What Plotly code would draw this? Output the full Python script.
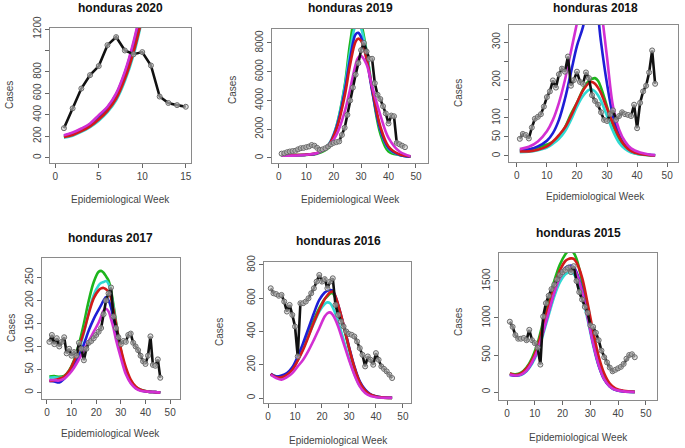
import plotly.graph_objects as go

W, H = 685, 448

# ---------------- data ----------------
weeks_2020 = list(range(1, 16))
obs_2020 = [275, 460, 645, 770, 855, 1050, 1125, 1000, 965, 985, 860, 570, 510, 490, 475]
fitx_2020 = list(range(1, 12))
green_2020 = [195, 215, 250, 295, 360, 440, 555, 740, 990, 1330, 1800]
cyan_2020 = [185, 205, 240, 285, 345, 425, 535, 715, 960, 1300, 1760]
red_2020 = [192, 212, 247, 292, 356, 436, 550, 735, 985, 1320, 1790]
blue_2020 = [205, 228, 265, 312, 388, 468, 590, 790, 1065, 1430, 1920]
mag_2020 = [209, 234, 272, 319, 397, 475, 600, 803, 1084, 1450, 1950]

weeks_2019 = list(range(1, 47))
obs_2019 = [300, 330, 400, 450, 480, 500, 600, 680, 700, 750, 800, 900, 850, 700, 560, 600,
            680, 800, 950, 1050, 1100, 1150, 1600, 2100, 3000, 4000, 4900, 5800, 6600, 7500,
            8000, 7400, 6900, 6900, 5200, 4400, 4100, 3600, 3100, 2400, 2950, 2900, 1050, 950,
            850, 750]
fitx_2019 = [1, 5, 10, 14, 18, 21, 24, 26, 28, 29, 30, 32, 34, 37, 40, 44, 48]
green_2019 = [200, 200, 210, 300, 700, 2200, 5000, 8000, 9900, 9950, 9400, 7400, 4800, 1700, 450, 200, 100]
cyan_2019 = [180, 190, 220, 340, 900, 2200, 4900, 7400, 9200, 9300, 9000, 7300, 4900, 2000, 650, 200, 80]
blue_2019 = [180, 190, 220, 330, 850, 2100, 4600, 6900, 8600, 8700, 8400, 6900, 4700, 2000, 700, 220, 90]
red_2019 = [200, 200, 230, 350, 850, 2000, 4300, 6500, 8100, 8300, 8150, 6900, 4900, 2200, 800, 250, 100]
mag_2019 = [150, 160, 220, 350, 800, 1600, 3200, 4800, 6500, 7000, 7100, 6500, 5000, 3000, 1400, 450, 120]

weeks_2018 = list(range(1, 47))
obs_2018 = [45, 58, 55, 46, 75, 98, 103, 110, 130, 155, 170, 199, 180, 215, 230, 222, 262, 185,
            200, 222, 195, 190, 220, 205, 160, 145, 135, 115, 95, 92, 110, 120, 95, 105, 115,
            110, 108, 105, 135, 73, 140, 170, 185, 220, 278, 190]
fitx_2018 = [1, 4, 7, 10, 12, 14, 16, 18, 20, 22, 24, 25, 26, 27, 28, 30, 32, 34, 36, 38, 41, 44, 46]
green_2018 = [15, 17, 22, 30, 37, 50, 75, 110, 140, 175, 198, 203, 205, 198, 180, 130, 80, 45, 22, 11, 4, 2, 1]
cyan_2018 = [10, 11, 15, 22, 32, 45, 65, 95, 130, 158, 174, 175, 170, 160, 145, 105, 65, 35, 18, 9, 4, 2, 1]
blue_2018 = [14, 17, 25, 40, 60, 95, 150, 220, 290, 340, 420, 440, 420, 370, 300, 190, 105, 55, 28, 14, 6, 3, 2]
red_2018 = [12, 12, 16, 25, 38, 55, 75, 105, 140, 172, 192, 195, 190, 180, 165, 125, 85, 50, 26, 13, 5, 2, 1]
mag_2018 = [18, 24, 38, 65, 95, 140, 200, 275, 350, 420, 470, 480, 470, 440, 390, 260, 130, 70, 38, 20, 9, 4, 2]

weeks_2017 = list(range(1, 47))
obs_2017 = [110, 125, 105, 118, 100, 110, 120, 85, 95, 80, 88, 80, 108, 95, 70, 95, 108, 112,
            118, 125, 132, 140, 170, 200, 215, 228, 165, 140, 120, 105, 112, 110, 125, 128, 108,
            100, 92, 80, 68, 62, 80, 122, 60, 58, 72, 32]
fitx_2017 = [1, 3, 5, 7, 9, 11, 13, 15, 17, 19, 21, 22, 23, 24, 25, 26, 27, 28, 30, 32, 34, 36, 38, 41, 44, 46]
green_2017 = [35, 36, 34, 36, 48, 70, 105, 150, 200, 240, 262, 264, 260, 252, 243, 222, 190, 155, 92, 50, 25, 12, 6, 2, 1, 0]
cyan_2017 = [32, 33, 32, 34, 44, 62, 92, 130, 175, 212, 233, 238, 240, 242, 236, 215, 185, 150, 90, 48, 23, 11, 5, 2, 1, 0]
blue_2017 = [25, 24, 22, 30, 44, 60, 80, 105, 135, 160, 180, 190, 200, 207, 200, 185, 160, 135, 85, 45, 22, 10, 5, 2, 1, 0]
red_2017 = [25, 27, 30, 35, 47, 68, 98, 132, 172, 205, 222, 226, 227, 224, 219, 205, 180, 150, 95, 55, 28, 13, 6, 2, 1, 0]
mag_2017 = [27, 27, 26, 30, 40, 54, 72, 92, 112, 132, 152, 165, 178, 182, 176, 160, 140, 115, 75, 40, 20, 9, 4, 2, 1, 0]

weeks_2016 = list(range(1, 47))
obs_2016 = [660, 630, 625, 615, 620, 580, 520, 560, 500, 430, 250, 570, 570, 580, 600, 630, 660,
            700, 740, 700, 715, 660, 700, 720, 560, 500, 460, 430, 400, 385, 380, 370, 340, 300,
            260, 190, 250, 230, 200, 270, 230, 190, 175, 160, 140, 120]
fitx_2016 = [1, 3, 5, 7, 9, 11, 13, 15, 17, 19, 21, 22, 23, 24, 25, 26, 28, 30, 32, 34, 36, 38, 40, 42, 46]
green_2016 = [140, 130, 125, 145, 175, 230, 300, 385, 470, 540, 595, 612, 628, 630, 600, 550, 430, 300, 180, 95, 45, 20, 9, 4, 1]
cyan_2016 = [145, 128, 130, 145, 180, 235, 300, 375, 450, 520, 565, 575, 570, 545, 505, 460, 350, 240, 145, 75, 35, 16, 7, 3, 1]
blue_2016 = [145, 130, 135, 150, 185, 250, 330, 420, 510, 590, 635, 645, 650, 645, 610, 560, 440, 310, 190, 100, 50, 22, 10, 5, 2]
red_2016 = [145, 125, 125, 140, 170, 225, 290, 370, 455, 530, 595, 618, 635, 640, 610, 560, 440, 305, 185, 95, 45, 20, 9, 4, 1]
mag_2016 = [140, 120, 110, 125, 150, 190, 230, 285, 350, 420, 490, 510, 515, 500, 470, 430, 330, 230, 140, 70, 30, 12, 5, 2, 1]

weeks_2015 = list(range(1, 47))
obs_2015 = [950, 880, 770, 720, 720, 730, 700, 840, 700, 660, 600, 370, 1020, 1200, 1300, 1390,
            1450, 1520, 1580, 1620, 1650, 1680, 1620, 1700, 1500, 1350, 1250, 1150, 1070, 900,
            880, 800, 700, 560, 470, 400, 330, 280, 300, 320, 340, 380, 450, 500, 510, 470]
fitx_2015 = [1, 3, 5, 7, 9, 11, 13, 15, 17, 19, 21, 22, 23, 24, 25, 27, 29, 31, 33, 35, 37, 39, 42, 46]
green_2015 = [250, 240, 260, 330, 460, 660, 950, 1230, 1500, 1720, 1860, 1900, 1910, 1880, 1800, 1500, 1100, 700, 380, 180, 80, 35, 10, 2]
cyan_2015 = [240, 225, 230, 280, 380, 540, 780, 1040, 1290, 1480, 1590, 1610, 1615, 1595, 1530, 1300, 980, 630, 350, 170, 75, 30, 8, 1]
blue_2015 = [230, 220, 235, 290, 400, 570, 820, 1090, 1350, 1560, 1680, 1700, 1710, 1690, 1620, 1380, 1030, 660, 360, 170, 75, 30, 8, 1]
red_2015 = [250, 230, 250, 320, 430, 620, 900, 1170, 1430, 1640, 1770, 1795, 1805, 1800, 1750, 1550, 1200, 820, 480, 250, 115, 50, 15, 2]
mag_2015 = [235, 222, 235, 290, 400, 565, 810, 1080, 1340, 1540, 1660, 1680, 1690, 1670, 1600, 1360, 1010, 650, 360, 170, 75, 30, 8, 1]

titles = ["honduras 2020", "honduras 2019", "honduras 2018",
          "honduras 2017", "honduras 2016", "honduras 2015"]
x_label = "Epidemiological Week"
y_label = "Cases"

xtick_vals = [[0, 5, 10, 15]] + [[0, 10, 20, 30, 40, 50]] * 5
ytick_vals = [[0, 200, 400, 600, 800, 1000, 1200], [0, 2000, 4000, 6000, 8000],
              [0, 50, 100, 150, 200, 250, 300], [0, 50, 100, 150, 200, 250],
              [0, 200, 400, 600, 800], [0, 500, 1000, 1500]]
ytick_text = [["0", "200", "400", "600", "800", "", "1200"], ["0", "2000", "4000", "6000", "8000"],
              ["0", "50", "100", "", "200", "", "300"], ["0", "50", "100", "150", "200", "250"],
              ["0", "200", "400", "600", "800"], ["0", "500", "1000", "1500"]]

panels = [
    (weeks_2020, obs_2020, fitx_2020, green_2020, cyan_2020, red_2020, blue_2020, mag_2020),
    (weeks_2019, obs_2019, fitx_2019, green_2019, cyan_2019, red_2019, blue_2019, mag_2019),
    (weeks_2018, obs_2018, fitx_2018, green_2018, cyan_2018, red_2018, blue_2018, mag_2018),
    (weeks_2017, obs_2017, fitx_2017, green_2017, cyan_2017, red_2017, blue_2017, mag_2017),
    (weeks_2016, obs_2016, fitx_2016, green_2016, cyan_2016, red_2016, blue_2016, mag_2016),
    (weeks_2015, obs_2015, fitx_2015, green_2015, cyan_2015, red_2015, blue_2015, mag_2015),
]

# ---------------- layout / styling ----------------
# plot boxes in pixels: (left, right, top, bottom)
boxes = [(50, 191, 28, 163), (272, 428, 29, 163), (509, 678, 25, 162),
         (42, 180, 258, 399), (264, 411, 262, 403), (499, 657, 253, 400)]
xranges = [[-0.6, 15.6], [-2.5, 54.4], [-2.6, 53.6], [-2.0, 54.0], [-1.5, 53.0], [-2.9, 54.0]]
yranges = [[-50, 1210], [-350, 8970], [-16, 345], [-14, 292], [-30, 818], [-108, 1878]]
title_pos = [(120, 8), (350, 8), (595, 8), (110, 238), (338, 241), (578, 233)]
xlab_pos = [(120, 199), (350, 199), (595, 197), (110, 433), (338, 440), (578, 437)]
ylab_pos = [(10, 95), (232, 90), (458, 93), (11, 328), (219, 332), (458, 322)]

colors = {"green": "#1DB51D", "cyan": "#2FD9D3", "red": "#D21A1A",
          "blue": "#1E1ED6", "mag": "#D22FD2"}

fig = go.Figure()
annotations = []
font = "Liberation Sans, Arial, sans-serif"

for i, (wk, obs, fx, g, c, r, b, m) in enumerate(panels):
    n = i + 1
    xa = "x" if n == 1 else f"x{n}"
    ya = "y" if n == 1 else f"y{n}"
    for vals, key in [(g, "green"), (c, "cyan"), (b, "blue"), (r, "red"), (m, "mag")]:
        fig.add_trace(go.Scatter(x=fx, y=vals, mode="lines", xaxis=xa, yaxis=ya,
                                 line=dict(color=colors[key], width=2.6, shape="spline", smoothing=1.0),
                                 showlegend=False, hoverinfo="skip"))
    fig.add_trace(go.Scatter(x=wk, y=obs, mode="lines+markers", xaxis=xa, yaxis=ya,
                             line=dict(color="#111111", width=2.6),
                             marker=dict(symbol="circle", size=5, color="rgba(205,205,205,0.6)",
                                         line=dict(color="#6a6a6a", width=1)),
                             showlegend=False, hoverinfo="skip"))
    L, R, T, B = boxes[i]
    axis_common = dict(showline=True, linecolor="#8a8a8a", linewidth=1, mirror=True,
                       ticks="outside", ticklen=4, tickcolor="#666666", showgrid=False,
                       zeroline=False, automargin=False,
                       tickfont=dict(family=font, size=10, color="#444444"))
    fig.layout[f"xaxis{'' if n == 1 else n}"] = dict(
        domain=[L / W, R / W], range=xranges[i], anchor=ya, tickvals=xtick_vals[i], **axis_common)
    fig.layout[f"yaxis{'' if n == 1 else n}"] = dict(
        domain=[1 - B / H, 1 - T / H], range=yranges[i], anchor=xa, tickvals=ytick_vals[i],
        ticktext=ytick_text[i], tickangle=-90, **axis_common)
    tx, ty = title_pos[i]
    annotations.append(dict(text=f"<b>{titles[i]}</b>", x=tx / W, y=1 - ty / H, xref="paper",
                            yref="paper", showarrow=False, xanchor="center", yanchor="middle",
                            font=dict(family=font, size=12, color="#111111")))
    lx, ly = xlab_pos[i]
    annotations.append(dict(text=x_label, x=lx / W, y=1 - ly / H, xref="paper", yref="paper",
                            showarrow=False, xanchor="center", yanchor="middle",
                            font=dict(family=font, size=10, color="#444444")))
    cx, cy = ylab_pos[i]
    annotations.append(dict(text=y_label, x=cx / W, y=1 - cy / H, xref="paper", yref="paper",
                            showarrow=False, xanchor="center", yanchor="middle", textangle=-90,
                            font=dict(family=font, size=10, color="#444444")))

fig.update_layout(width=W, height=H, margin=dict(l=0, r=0, t=0, b=0, autoexpand=False),
                  paper_bgcolor="white", plot_bgcolor="white", annotations=annotations,
                  hovermode=False)

fig.write_html("out.html", config={"displayModeBar": False},
               post_script="document.body.style.margin='0';document.body.style.overflow='hidden';")
